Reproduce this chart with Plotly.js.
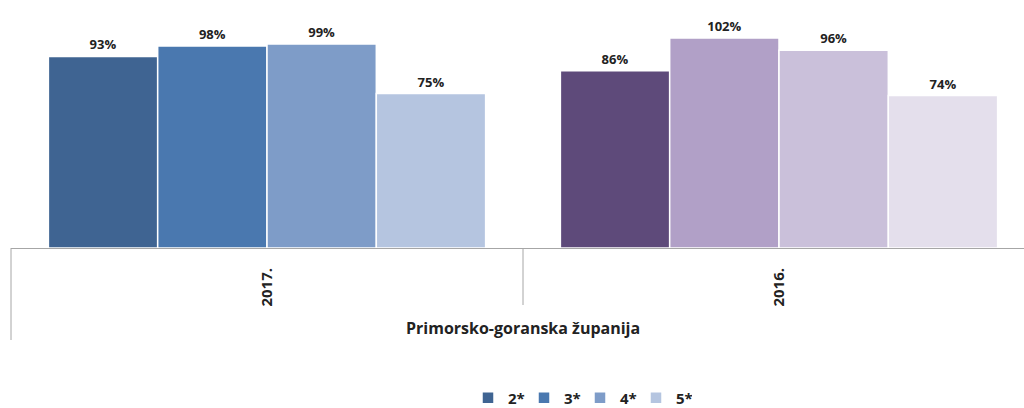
<!DOCTYPE html>
<html>
<head>
<meta charset="utf-8">
<script src="https://cdn.plot.ly/plotly-3.0.1.min.js"></script>
<style>html,body{margin:0;padding:0;background:#fff;}#chart{width:1024px;height:408px;}</style>
</head>
<body>
<div id="chart"></div>
<script>
const years = ['2017.', '2016.'];
const groupLabel = 'Primorsko-goranska županija';
const seriesNames = ['2*', '3*', '4*', '5*'];
const values2star = [93, 86];
const values3star = [98, 102];
const values4star = [99, 96];
const values5star = [75, 74];
const colors2star = ['#3F6492', '#5E4A7A'];
const colors3star = ['#4A78AF', '#B1A0C7'];
const colors4star = ['#7E9CC8', '#CAC0DA'];
const colors5star = ['#B5C5E0', '#E4DFEC'];

const allValues = [values2star, values3star, values4star, values5star];
const allColors = [colors2star, colors3star, colors4star, colors5star];

const FONT = '"Open Sans", sans-serif';
const plotTop = 10, baseY = 248;
const plotH = baseY - plotTop;

const traces = seriesNames.map((name, i) => ({
  type: 'bar',
  name: name,
  x: years,
  y: allValues[i],
  marker: {color: allColors[i], line: {color: '#ffffff', width: 1.5}},
  texttemplate: '%{y}%',
  textposition: 'outside',
  textfont: {family: FONT, size: 13, color: '#222', weight: 'bold'},
  cliponaxis: false,
  hoverinfo: 'skip'
}));

const layout = {
  width: 1024, height: 408,
  margin: {l: 11, r: 0, t: plotTop, b: 408 - baseY, autoexpand: false},
  paper_bgcolor: '#fff', plot_bgcolor: '#fff',
  barmode: 'group',
  bargap: 0.146,
  bargroupgap: 0,
  showlegend: true,
  legend: {
    orientation: 'h', xref: 'container', yref: 'container',
    x: 468 / 1024, xanchor: 'left', y: (408 - 398) / 408, yanchor: 'middle',
    font: {family: FONT, size: 15, color: '#222', weight: 'bold'},
    itemwidth: 30, entrywidth: 11, entrywidthmode: 'pixels', traceorder: 'normal'
  },
  xaxis: {
    type: 'category', automargin: false,
    range: [-0.5, (1024 - 11) / 512 - 0.5],
    showline: true, linecolor: '#A6A6A6', linewidth: 1,
    showgrid: false, zeroline: false,
    ticks: '', tickangle: -90, ticklabelstandoff: 13,
    tickfont: {family: FONT, size: 15, color: '#222', weight: 'bold'}
  },
  yaxis: {
    range: [0, plotH / 2.06], automargin: false,
    visible: false, showgrid: false, zeroline: false
  },
  shapes: [
    {type: 'line', xref: 'paper', yref: 'paper', x0: 0, x1: 0, y0: 0, y1: -(340 - baseY) / plotH,
     line: {color: '#A6A6A6', width: 1}},
    {type: 'line', xref: 'x', yref: 'paper', x0: 0.5, x1: 0.5, y0: 0, y1: -(305 - baseY) / plotH,
     line: {color: '#A6A6A6', width: 1}}
  ],
  annotations: [
    {text: groupLabel, xref: 'x', yref: 'paper', x: 0.5, y: -(328 - baseY) / plotH,
     showarrow: false, xanchor: 'center', yanchor: 'middle',
     font: {family: FONT, size: 16, color: '#222', weight: 'bold'}}
  ]
};

Plotly.newPlot('chart', traces, layout, {displayModeBar: false, staticPlot: true});
</script>
</body>
</html>
